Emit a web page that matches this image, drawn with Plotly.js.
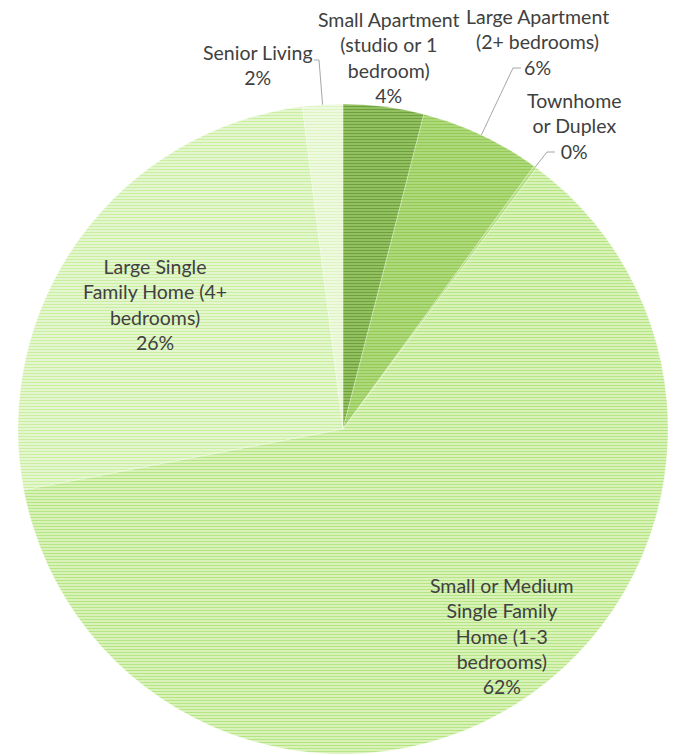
<!DOCTYPE html>
<html>
<head>
<meta charset="utf-8">
<script src="https://cdn.plot.ly/plotly-3.0.1.min.js"></script>
<style>html,body{margin:0;padding:0;background:#fff;}#chart{width:674px;height:755px;}</style>
</head>
<body>
<div id="chart"></div>
<script>
// Data
const categories = [
  "Small Apartment (studio or 1 bedroom)",
  "Large Apartment (2+ bedrooms)",
  "Townhome or Duplex",
  "Small or Medium Single Family Home (1-3 bedrooms)",
  "Large Single Family Home (4+ bedrooms)",
  "Senior Living"
];
const labelLines = [
  ["Small Apartment", "(studio or 1", "bedroom)"],
  ["Large Apartment", "(2+ bedrooms)"],
  ["Townhome", "or Duplex"],
  ["Small or Medium", "Single Family", "Home (1-3", "bedrooms)"],
  ["Large Single", "Family Home (4+", "bedrooms)"],
  ["Senior Living"]
];
const values = [4.0, 6.0, 0.15, 61.85, 26.0, 2.0];
const bgColors = ["#9fcc6e", "#b6df86", "#c4e89a", "#e4f6cc", "#eef9e0", "#f4fbea"];
const fgColors = ["#6ea13e", "#95ca58", "#a8d870", "#b6e683", "#c9ef9f", "#dcf5c2"];

// Geometry (pixels)
const W = 674, H = 755;
const cx = 343, cy = 429, R = 325;
const px = x => x / W;
const py = y => 1 - y / H;

const total = values.reduce((a, b) => a + b, 0);
const pct = values.map(v => Math.round(v / total * 100) + "%");

// Label placement (text center x, first line y, leader?)
const labelPos = [
  {x: 389, y: 19, leader: false},
  {x: 537, y: 17, leader: true, lx: 521, ly: 68},
  {x: 574, y: 101, leader: true, lx: 555, ly: 152},
  {x: 502, y: 585, leader: false},
  {x: 155, y: 266, leader: false},
  {x: 258, y: 52, leader: true, lx: 314, ly: 60, right: true}
];
const lineH = 25.4;

const annotations = [];
const shapes = [];
let cum = 0;
values.forEach((v, i) => {
  const mid = (cum + v / 2) / total * 2 * Math.PI;
  cum += v;
  const lines = labelLines[i].concat([pct[i]]);
  const p = labelPos[i];
  const ytop = p.y - lineH / 2;
  const ybot = ytop + lines.length * lineH;
  annotations.push({
    xref: "paper", yref: "paper",
    x: px(p.x), y: py((ytop + ybot) / 2),
    xanchor: "center", yanchor: "middle",
    text: lines.join("<br>"),
    showarrow: false,
    align: "center",
    font: {family: "Lato, 'Open Sans', sans-serif", size: 19.5, color: "#404040"}
  });
  if (p.leader) {
    const ex = cx + R * Math.sin(mid);
    const ey = cy - R * Math.cos(mid);
    let path;
    if (p.right) {
      path = `M${px(p.lx)},${py(p.ly)} L${px(p.lx + 5)},${py(p.ly)} L${px(ex)},${py(ey)}`;
    } else {
      path = `M${px(p.lx)},${py(p.ly)} L${px(p.lx - 8)},${py(p.ly)} L${px(ex)},${py(ey)}`;
    }
    shapes.push({type: "path", xref: "paper", yref: "paper", path: path,
      line: {color: "#a6a6a6", width: 1}});
  }
});

const trace = {
  type: "pie",
  labels: categories,
  values: values,
  sort: false,
  direction: "clockwise",
  rotation: 0,
  textinfo: "none",
  hoverinfo: "label+percent",
  domain: {x: [px(cx - R), px(cx + R)], y: [py(cy + R), py(cy - R)]},
  marker: {
    colors: bgColors,
    line: {color: "rgba(255,255,255,0.5)", width: 0.5},
    pattern: {shape: "-", fgcolor: fgColors, bgcolor: bgColors, size: 3, solidity: 0.5}
  }
};

const layout = {
  width: W, height: H,
  margin: {l: 0, r: 0, t: 0, b: 0},
  showlegend: false,
  paper_bgcolor: "#ffffff",
  annotations: annotations,
  shapes: shapes
};

Plotly.newPlot("chart", [trace], layout, {displayModeBar: false, staticPlot: true});
</script>
</body>
</html>
